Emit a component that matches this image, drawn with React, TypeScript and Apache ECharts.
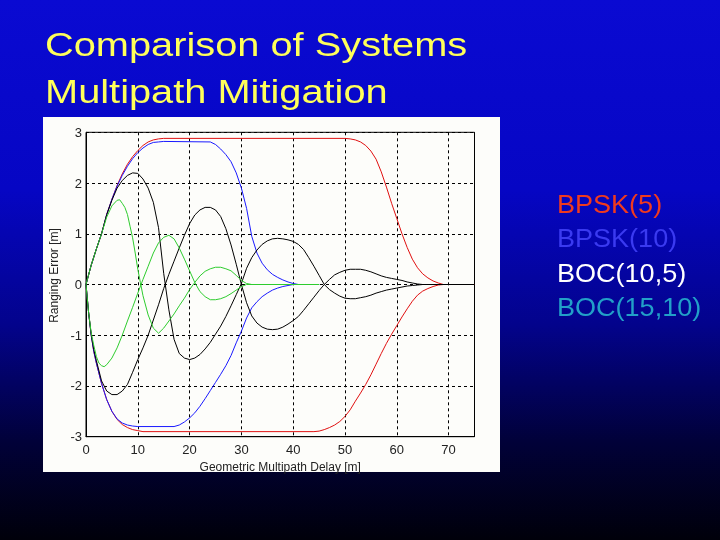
import React, { useEffect, useRef } from 'react';
import * as echarts from 'echarts';

// slide text
const titleLines = ['Comparison of Systems', 'Multipath Mitigation'];
const systems = ['BPSK(5)', 'BPSK(10)', 'BOC(10,5)', 'BOC(15,10)'];
const legendColors = ['#f03a1e', '#3a3af0', '#ffffff', '#22a0c8'];
const lineColors = ['#e01010', '#1a1aff', '#000000', '#2ecc2e'];

// [delay m, ranging error m]
const bpsk5Upper = [
  [0, 0], [1, 0.38], [2, 0.7], [3, 1.0], [4, 1.38], [5, 1.68], [6, 1.95], [7, 2.18], [8, 2.37],
  [9, 2.52], [10, 2.64], [11, 2.74], [12, 2.81], [13, 2.85], [14, 2.87], [15, 2.88], [50, 2.88],
  [51, 2.87], [52, 2.85], [53, 2.81], [54, 2.74], [55, 2.63], [56, 2.47], [57, 2.22], [58, 1.92],
  [59, 1.6], [60, 1.3], [61, 1.0], [62, 0.73], [63, 0.5], [64, 0.33], [65, 0.21], [66, 0.13],
  [67, 0.07], [68, 0.03], [69, 0], [75, 0],
];
const bpsk5Lower = [
  [0, 0], [0.5, -0.55], [1, -1.0], [1.5, -1.32], [2, -1.55], [3, -1.95], [4, -2.27], [5, -2.5],
  [6, -2.66], [7, -2.76], [8, -2.82], [9, -2.86], [10, -2.88], [11, -2.9], [44, -2.9], [45, -2.89],
  [46, -2.86], [47, -2.82], [48, -2.77], [49, -2.7], [50, -2.6], [51, -2.47], [52, -2.3],
  [53, -2.14], [54, -1.97], [55, -1.78], [56, -1.57], [57, -1.36], [58, -1.16], [59, -0.98],
  [60, -0.81], [61, -0.64], [62, -0.48], [63, -0.33], [64, -0.21], [65, -0.13], [66, -0.08],
  [67, -0.04], [68, -0.01], [69, 0], [75, 0],
];
const bpsk10Upper = [
  [0, 0], [1, 0.38], [2, 0.7], [3, 1.0], [4, 1.38], [5, 1.68], [6, 1.94], [7, 2.15], [8, 2.33],
  [9, 2.48], [10, 2.6], [11, 2.69], [12, 2.76], [13, 2.8], [14, 2.81], [15, 2.82], [24, 2.81],
  [25, 2.76], [26, 2.67], [27, 2.56], [28, 2.42], [29, 2.2], [30, 1.9], [31, 1.5], [32, 0.95],
  [33, 0.62], [34, 0.42], [35, 0.29], [36, 0.2], [37, 0.14], [38, 0.09], [39, 0.05], [40, 0.02],
  [41, 0], [45, 0],
];
const bpsk10Lower = [
  [0, 0], [0.5, -0.55], [1, -1.0], [1.5, -1.32], [2, -1.55], [3, -1.95], [4, -2.27], [5, -2.5],
  [6, -2.65], [7, -2.73], [8, -2.77], [9, -2.79], [10, -2.8], [17, -2.8], [18, -2.77], [19, -2.71],
  [20, -2.63], [21, -2.53], [22, -2.4], [23, -2.25], [24, -2.09], [25, -1.93], [26, -1.77],
  [27, -1.6], [28, -1.4], [29, -1.15], [30, -0.92], [31, -0.66], [32, -0.46], [33, -0.34],
  [34, -0.24], [35, -0.17], [36, -0.11], [37, -0.07], [38, -0.04], [39, -0.02], [40, 0], [45, 0],
];
const boc105Upper = [
  [0, 0], [1, 0.38], [2, 0.7], [3, 1.0], [4, 1.38], [5, 1.66], [6, 1.9], [7, 2.05], [8, 2.15],
  [9, 2.2], [10, 2.19], [11, 2.08], [12, 1.9], [13, 1.62], [14, 1.12], [15, 0.22], [16, -0.5],
  [17, -1.08], [18, -1.36], [19, -1.45], [20, -1.48], [21, -1.45], [22, -1.38], [23, -1.27],
  [24, -1.14], [25, -0.98], [26, -0.82], [27, -0.63], [28, -0.42], [29, -0.2], [30, 0.02],
  [31, 0.32], [32, 0.53], [33, 0.68], [34, 0.79], [35, 0.86], [36, 0.9], [37, 0.91], [38, 0.9],
  [39, 0.88], [40, 0.85], [41, 0.79], [42, 0.69], [43, 0.53], [44, 0.36], [45, 0.18], [46, 0],
  [47, -0.1], [48, -0.17], [49, -0.23], [50, -0.27], [51, -0.28], [52, -0.28], [53, -0.26],
  [54, -0.24], [55, -0.21], [56, -0.17], [57, -0.14], [58, -0.11], [59, -0.09], [60, -0.07],
  [61, -0.05], [62, -0.03], [63, -0.02], [64, -0.01], [65, 0], [75, 0],
];
const boc105Lower = [
  [0, 0], [0.5, -0.55], [1, -0.98], [1.5, -1.28], [2, -1.5], [3, -1.9], [4, -2.1], [5, -2.17],
  [6, -2.17], [7, -2.1], [8, -1.97], [9, -1.73], [10, -1.48], [11, -1.25], [12, -1.0], [13, -0.7],
  [14, -0.4], [15, -0.08], [16, 0.2], [17, 0.46], [18, 0.72], [19, 0.97], [20, 1.2], [21, 1.37],
  [22, 1.47], [23, 1.52], [24, 1.52], [25, 1.47], [26, 1.34], [27, 1.1], [28, 0.78], [29, 0.4],
  [30, 0.0], [31, -0.36], [32, -0.62], [33, -0.76], [34, -0.84], [35, -0.88], [36, -0.89],
  [37, -0.88], [38, -0.84], [39, -0.78], [40, -0.71], [41, -0.63], [42, -0.51], [43, -0.38],
  [44, -0.25], [45, -0.12], [46, 0], [47, 0.1], [48, 0.19], [49, 0.24], [50, 0.28], [51, 0.3],
  [52, 0.3], [53, 0.3], [54, 0.28], [55, 0.25], [56, 0.21], [57, 0.17], [58, 0.14], [59, 0.12],
  [60, 0.1], [61, 0.08], [62, 0.05], [63, 0.03], [64, 0.01], [65, 0], [75, 0],
];
const boc1510Upper = [
  [0, 0], [1, 0.38], [2, 0.7], [3, 1.0], [4, 1.33], [5, 1.55], [6, 1.66], [6.5, 1.67], [7, 1.6],
  [7.5, 1.52], [8, 1.38], [8.5, 1.15], [9, 0.92], [9.5, 0.62], [10, 0.3], [10.5, 0.04],
  [11, -0.22], [12, -0.6], [13, -0.86], [14, -0.96], [15, -0.86], [16, -0.72], [17, -0.58],
  [18, -0.42], [19, -0.27], [20, -0.1], [21, 0.04], [22, 0.17], [23, 0.26], [24, 0.31],
  [25, 0.34], [26, 0.34], [27, 0.31], [28, 0.27], [29, 0.18], [30, 0.08], [31, 0.02], [32, 0],
  [45, 0],
];
const boc1510Lower = [
  [0, 0], [0.5, -0.55], [1, -0.95], [1.5, -1.2], [2, -1.42], [2.5, -1.55], [3, -1.6], [3.5, -1.62],
  [4, -1.58], [5, -1.45], [6, -1.25], [7, -1.0], [8, -0.72], [9, -0.45], [10, -0.17], [11, 0.1],
  [12, 0.36], [13, 0.62], [14, 0.82], [15, 0.93], [16, 0.97], [17, 0.9], [18, 0.72], [19, 0.5],
  [20, 0.27], [21, 0.04], [22, -0.14], [23, -0.24], [24, -0.3], [25, -0.3], [26, -0.28],
  [27, -0.24], [28, -0.18], [29, -0.11], [30, -0.04], [31, 0], [45, 0],
];

const envelopes = [
  [bpsk5Upper, bpsk5Lower],
  [bpsk10Upper, bpsk10Lower],
  [boc105Upper, boc105Lower],
  [boc1510Upper, boc1510Lower],
];

const FONT = '"Liberation Sans", Arial, sans-serif';

const App: React.FC = () => {
  const chartRef = useRef<HTMLDivElement>(null);

  useEffect(() => {
    if (!chartRef.current) return;
    const chart = echarts.init(chartRef.current, undefined, { renderer: 'svg' });

    const series: any[] = [];
    envelopes.forEach((pair, i) => {
      pair.forEach((data) => {
        series.push({
          name: systems[i],
          type: 'line',
          data,
          symbol: 'none',
          lineStyle: { color: lineColors[i], width: 1 },
          itemStyle: { color: lineColors[i] },
          z: 3 + i,
        });
      });
    });

    const graphics: any[] = [
      {
        type: 'rect',
        z: -10,
        shape: { x: 0, y: 0, width: 720, height: 540 },
        style: {
          fill: new echarts.graphic.LinearGradient(0, 0, 0, 1, [
            { offset: 0, color: '#0a0ad2' },
            { offset: 0.35, color: '#0606c4' },
            { offset: 0.6, color: '#03038c' },
            { offset: 0.82, color: '#010138' },
            { offset: 1, color: '#00000a' },
          ]),
        },
      },
      {
        type: 'rect',
        z: -9,
        shape: { x: 43, y: 117, width: 457, height: 355 },
        style: { fill: '#fdfdfa' },
      },
    ];
    titleLines.forEach((line, i) => {
      graphics.push({
        type: 'text',
        z: 10,
        x: 45,
        y: 45 + i * 46.6,
        scaleX: 1.17,
        style: {
          text: line,
          fill: '#ffff5a',
          font: `34px ${FONT}`,
          align: 'left',
          verticalAlign: 'middle',
        },
      });
    });
    systems.forEach((name, i) => {
      graphics.push({
        type: 'text',
        z: 10,
        x: 557,
        y: 204 + i * 34.4,
        scaleX: 1.04,
        style: {
          text: name,
          fill: legendColors[i],
          font: `26px ${FONT}`,
          align: 'left',
          verticalAlign: 'middle',
        },
      });
    });

    const option: echarts.EChartsOption = {
      animation: false,
      grid: {
        left: 86,
        right: 245.5,
        top: 132.3,
        bottom: 103.3,
        show: true,
        borderColor: '#000',
        borderWidth: 1,
        backgroundColor: 'transparent',
      },
      tooltip: { trigger: 'axis' },
      xAxis: {
        type: 'value',
        min: 0,
        max: 75,
        interval: 10,
        name: 'Geometric Multipath Delay [m]',
        nameLocation: 'middle',
        nameGap: 17,
        nameTextStyle: { fontFamily: FONT, fontSize: 12, color: '#222' },
        axisLine: { show: true, onZero: false, lineStyle: { color: '#000', width: 1 } },
        axisTick: { show: false },
        axisLabel: {
          showMaxLabel: false,
          margin: 6,
          fontFamily: FONT,
          fontSize: 13,
          color: '#222',
        },
        splitLine: { show: true, lineStyle: { color: '#000', type: [3, 3], width: 1 } },
      },
      yAxis: {
        type: 'value',
        min: -3,
        max: 3,
        interval: 1,
        name: 'Ranging Error [m]',
        nameLocation: 'middle',
        nameGap: 18,
        nameTextStyle: {
          fontFamily: FONT,
          fontSize: 12,
          color: '#222',
          padding: [0, 0, 0, 18],
        },
        axisLine: { show: true, onZero: false, lineStyle: { color: '#000', width: 1 } },
        axisTick: { show: false },
        axisLabel: { margin: 4, fontFamily: FONT, fontSize: 13, color: '#222' },
        splitLine: { show: true, lineStyle: { color: '#000', type: [3, 3], width: 1 } },
      },
      graphic: graphics,
      series,
    };

    chart.setOption(option);

    return () => {
      chart.dispose();
    };
  }, []);

  return (
    <div style={{ position: 'fixed', left: 0, top: 0, width: '720px', height: '540px' }}>
      <div ref={chartRef} style={{ width: '720px', height: '540px' }} />
    </div>
  );
};

export default App;
